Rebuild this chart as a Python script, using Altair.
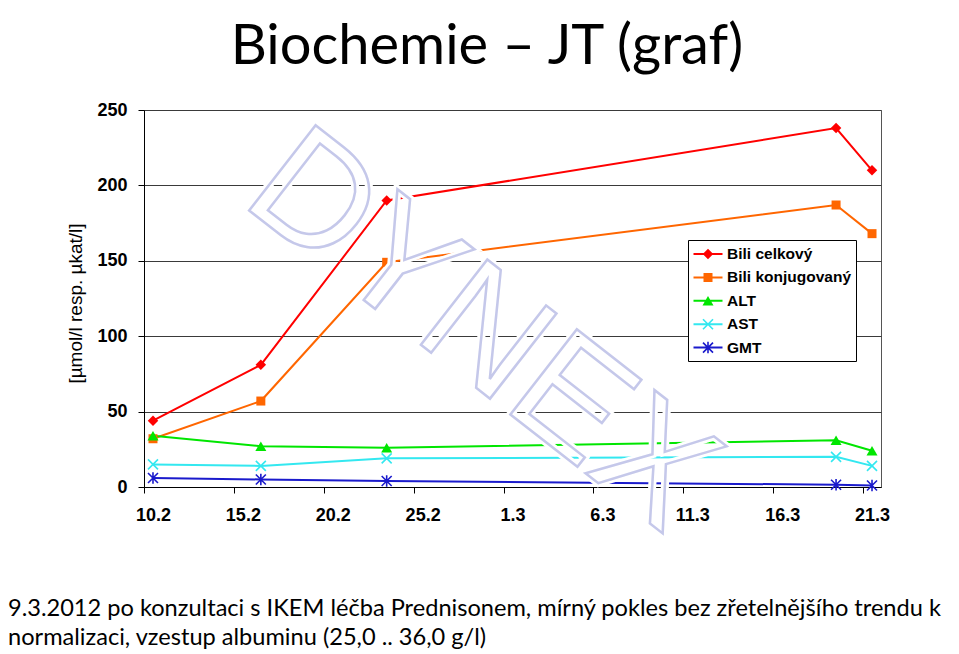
import altair as alt
import pandas as pd

# ---------------- data ----------------
dates = ["2012-02-10", "2012-02-16", "2012-02-23", "2012-03-19", "2012-03-21"]
series = ["Bili celkový", "Bili konjugovaný", "ALT", "AST", "GMT"]
bili_celkovy = [44, 81, 190, 238, 210]
bili_konjugovany = [32, 57, 149, 187, 168]
alt_values = [34, 27, 26, 31, 24]
ast_values = [15, 14, 19, 20, 14]
gmt_values = [6, 5, 4, 1.5, 1]
tick_dates = ["2012-02-10", "2012-02-15", "2012-02-20", "2012-02-25", "2012-03-01",
              "2012-03-06", "2012-03-11", "2012-03-16", "2012-03-21"]
domain_dates = ["2012-02-10", "2012-03-22"]
y_ticks = [0, 50, 100, 150, 200, 250]
title_text = ["Biochemie – JT (graf)"]
subtitle_lines = ["9.3.2012 po konzultaci s IKEM léčba Prednisonem, mírný pokles bez zřetelnějšího trendu k",
                  "normalizaci, vzestup albuminu (25,0 .. 36,0 g/l)"]
y_title = "[µmol/l resp. µkat/l]"
watermark = ["DYNEX"]
colors = ["#ff0000", "#ff6600", "#00e600", "#33e8f0", "#1a1acc"]

values = [bili_celkovy, bili_konjugovany, alt_values, ast_values, gmt_values]
rows = []
for s, vals in zip(series, values):
    for d, v in zip(dates, vals):
        rows.append({"date": d + "T12:00:00", "serie": s, "value": v})
df = pd.DataFrame(rows)
legend_df = pd.DataFrame({"serie_l": series})


def to_dt(s):
    y, m, d = (int(p) for p in s.split("-"))
    return alt.DateTime(year=y, month=m, date=d)


# ---------------- marker shapes ----------------
def poly(points):
    area = sum(x1 * y2 - x2 * y1 for (x1, y1), (x2, y2) in zip(points, points[1:] + points[:1]))
    if area < 0:
        points = points[::-1]
    return "M" + "L".join(f"{x:.3f},{y:.3f}" for x, y in points) + "Z"


def bar(p, q, h):
    dx, dy = q[0] - p[0], q[1] - p[1]
    L = (dx * dx + dy * dy) ** 0.5
    nx, ny = -dy / L * h, dx / L * h
    return poly([(p[0] + nx, p[1] + ny), (q[0] + nx, q[1] + ny),
                 (q[0] - nx, q[1] - ny), (p[0] - nx, p[1] - ny)])


def marker(kind, s):
    h = 0.16 * s
    if kind == "diamond":
        return poly([(0, -1.05 * s), (1.05 * s, 0), (0, 1.05 * s), (-1.05 * s, 0)])
    if kind == "square":
        return poly([(-0.9 * s, -0.9 * s), (0.9 * s, -0.9 * s), (0.9 * s, 0.9 * s), (-0.9 * s, 0.9 * s)])
    if kind == "triangle":
        return poly([(0, -0.95 * s), (1.1 * s, 0.95 * s), (-1.1 * s, 0.95 * s)])
    if kind == "x":
        return bar((-s, -s), (s, s), h) + bar((-s, s), (s, -s), h)
    if kind == "asterisk":
        return (bar((-s, -s), (s, s), h) + bar((-s, s), (s, -s), h)
                + bar((0, -1.15 * s), (0, 1.15 * s), h))


kinds = ["diamond", "square", "triangle", "x", "asterisk"]
data_shapes = [marker(k, 1.0) for k in kinds]
legend_line = bar((-1.45, 0), (1.45, 0), 0.1)
legend_shapes = [legend_line + marker(k, 0.5) for k in kinds]

# ---------------- chart ----------------
x_enc = alt.X("date:T",
              scale=alt.Scale(domain=[to_dt(d) for d in domain_dates]),
              axis=alt.Axis(values=[to_dt(d) for d in tick_dates], format="%-d.%-m",
                            title=None, grid=False, labelOffset=9, labelPadding=13,
                            tickSize=6, labelFontSize=18, labelFontWeight="bold",
                            labelFont="Liberation Sans", labelColor="black",
                            domainColor="black", tickColor="black", labelFlush=False))
y_enc = alt.Y("value:Q",
              scale=alt.Scale(domain=[0, 250], nice=False),
              axis=alt.Axis(values=y_ticks, title=y_title, grid=True, gridColor="#3a3a3a",
                            tickSize=6, labelPadding=11, labelFontSize=18,
                            labelFontWeight="bold", labelFont="Liberation Sans",
                            labelColor="black", domainColor="black", tickColor="black",
                            titleFont="Liberation Sans", titleFontWeight="normal",
                            titleFontSize=19, titleColor="black", titleX=-69, titleY=193,
                            titleAngle=270, titleBaseline="middle", titleAlign="center"))
color_scale = alt.Scale(domain=series, range=colors)

lines = alt.Chart(df).mark_line(strokeWidth=2).encode(
    x=x_enc, y=y_enc,
    color=alt.Color("serie:N", scale=color_scale, legend=None),
    detail="serie:N",
)

points = alt.Chart(df).mark_point(filled=True, opacity=1, size=100).encode(
    x=x_enc, y=y_enc,
    color=alt.Color("serie:N", scale=color_scale, legend=None),
    shape=alt.Shape("serie:N", scale=alt.Scale(domain=series, range=data_shapes), legend=None),
)

leg = alt.Legend(orient="none", legendX=544, legendY=130, title=None,
                 padding=4, symbolOffset=6, symbolSize=400,
                 labelOffset=9, labelFontSize=15.5,
                 labelFont="Liberation Sans", labelFontWeight="bold",
                 labelColor="black", fillColor="white",
                 strokeColor="black", rowPadding=4.4,
                 symbolStrokeWidth=0, symbolOpacity=1)

legend_layer = alt.Chart(legend_df).mark_point(filled=True, opacity=1, size=400).encode(
    x=alt.value(0), y=alt.value(-3000),
    color=alt.Color("serie_l:N", scale=alt.Scale(domain=series, range=colors), legend=leg),
    shape=alt.Shape("serie_l:N", scale=alt.Scale(domain=series, range=legend_shapes), legend=leg),
)

wm_df = pd.DataFrame({"t": watermark})
wm_halo = alt.Chart(wm_df).mark_text(
    font="Liberation Sans", fontSize=157, angle=38, align="center", baseline="middle",
    fill="#ffffff", fillOpacity=0, stroke="#ffffff", strokeWidth=8,
).encode(text="t:N", x=alt.value(337), y=alt.value(222))
wm_text = alt.Chart(wm_df).mark_text(
    font="Liberation Sans", fontSize=157, angle=38, align="center", baseline="middle",
    fill="#ffffff", fillOpacity=0, stroke="#c5c8ea", strokeWidth=2.5,
).encode(text="t:N", x=alt.value(337), y=alt.value(222))

title = alt.Chart(pd.DataFrame({"t": title_text})).mark_text(
    font="Lato", fontSize=56, align="center", baseline="alphabetic", color="black",
).encode(text="t:N", x=alt.value(343), y=alt.value(-46))

sub1 = alt.Chart(pd.DataFrame({"t": subtitle_lines[:1]})).mark_text(
    font="Lato", fontSize=23.6, align="left", baseline="alphabetic", color="black",
).encode(text="t:N", x=alt.value(-136), y=alt.value(506))
sub2 = alt.Chart(pd.DataFrame({"t": subtitle_lines[1:]})).mark_text(
    font="Lato", fontSize=23.6, align="left", baseline="alphabetic", color="black",
).encode(text="t:N", x=alt.value(-136), y=alt.value(535))

chart = alt.layer(lines, points, legend_layer, wm_halo, wm_text, title, sub1, sub2).resolve_scale(
    color="independent", shape="independent"
).properties(
    width=737, height=377,
    padding={"left": 136, "top": 102, "right": 70, "bottom": 167},
    autosize="none",
    background="white",
).configure_view(stroke="#555555", strokeWidth=1)

chart.save("out.html", embed_options={"renderer": "svg", "actions": False})
